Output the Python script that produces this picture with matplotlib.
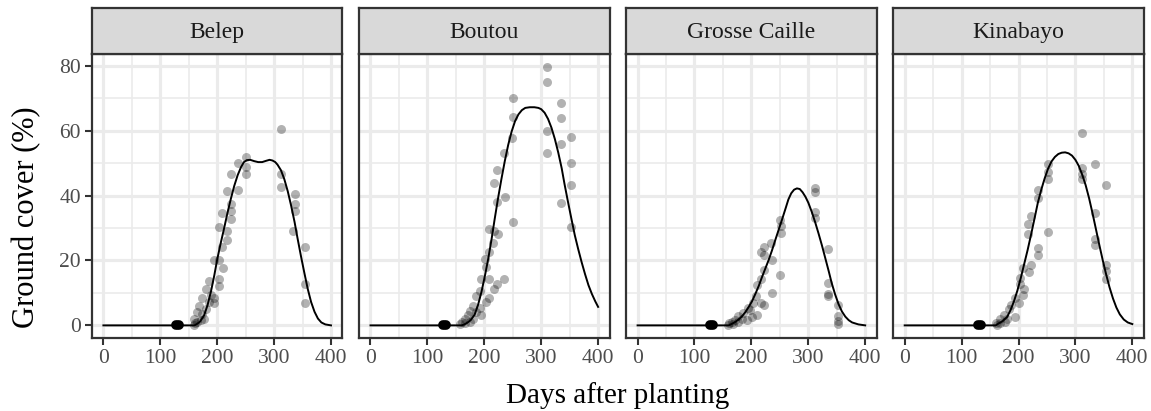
import matplotlib
matplotlib.use("Agg")
import matplotlib.pyplot as plt

plt.rcParams['font.family'] = ['Liberation Serif', 'DejaVu Serif']

sites = ["Belep", "Boutou", "Grosse Caille", "Kinabayo"]

# ---- fitted curves (days, ground cover %) ----
belep_curve_x = [0, 160, 165, 170, 177, 183, 189, 195, 200, 206, 212, 218, 224, 230, 236, 242, 247, 252, 258, 265, 272, 279, 286, 292, 297, 302, 306, 312, 318, 324, 330, 336, 341, 347, 353, 359, 365, 371, 377, 383, 390, 400]
belep_curve_y = [0, 0, 0.5, 1.2, 3.1, 6.2, 10.4, 15.5, 20.3, 25.2, 29.8, 34.6, 39.0, 43.0, 46.3, 48.8, 50.3, 50.9, 51.0, 50.6, 50.3, 50.3, 50.7, 51.0, 50.8, 50.3, 49.5, 47.8, 45.0, 41.3, 36.8, 31.8, 27.0, 21.5, 16.3, 11.3, 7.2, 4.2, 2.1, 0.9, 0.3, 0]

boutou_curve_x = [0, 160, 165, 170, 176, 183, 189, 195, 201, 207, 213, 218, 224, 230, 236, 242, 248, 254, 260, 266, 272, 280, 288, 295, 300, 306, 312, 318, 324, 330, 336, 341, 347, 353, 359, 365, 371, 377, 383, 389, 395, 400]
boutou_curve_y = [0, 0, 0.3, 0.8, 1.6, 3.3, 6.3, 10.3, 15.2, 20.6, 26.8, 32.5, 39.0, 45.0, 50.6, 55.6, 59.7, 62.9, 65.0, 66.3, 67.0, 67.2, 67.2, 67.0, 66.6, 65.5, 63.6, 60.9, 57.4, 53.2, 48.4, 43.5, 38.1, 32.9, 27.8, 23.5, 19.5, 15.8, 12.4, 9.7, 7.4, 5.7]

grosse_curve_x = [0, 160, 166, 172, 178, 183, 189, 195, 201, 207, 213, 218, 224, 230, 236, 242, 248, 254, 260, 265, 270, 275, 280, 285, 290, 295, 300, 306, 312, 318, 324, 330, 336, 341, 347, 353, 359, 365, 371, 377, 388, 400]
grosse_curve_y = [0, 0, 0.5, 1.1, 1.9, 2.7, 4.0, 5.6, 7.4, 9.7, 12.2, 14.6, 17.3, 20.0, 23.0, 26.3, 29.5, 32.7, 36.0, 38.8, 40.7, 41.8, 42.2, 42.0, 41.0, 39.6, 37.8, 35.0, 31.8, 28.3, 24.6, 20.6, 16.6, 13.1, 9.6, 6.6, 4.3, 2.7, 1.6, 0.9, 0.3, 0]

kina_curve_x = [0, 160, 165, 172, 180, 186, 192, 198, 204, 210, 216, 222, 228, 234, 240, 246, 252, 258, 264, 270, 276, 282, 288, 294, 300, 306, 312, 318, 324, 330, 336, 342, 348, 354, 360, 366, 372, 378, 385, 392, 400]
kina_curve_y = [0, 0, 0.6, 1.3, 2.6, 4.7, 7.4, 10.7, 14.6, 18.9, 23.2, 27.9, 32.8, 37.8, 41.8, 45.3, 48.3, 50.5, 51.9, 52.8, 53.2, 53.3, 53.0, 52.3, 51.0, 49.1, 46.4, 43.2, 39.2, 34.6, 29.7, 24.8, 20.1, 15.7, 11.7, 8.3, 5.5, 3.4, 1.8, 0.9, 0.4]

# ---- emergence markers (days) ----
emerg_start = [128, 128, 128, 129]
emerg_end = [133, 133, 133, 134]

# ---- observations ----
belep_obs_x = [312, 250, 236, 250, 250, 224, 312, 312, 218, 236, 336, 337, 224, 337, 224, 209, 225, 204, 334, 218, 218, 355, 209, 195, 204, 211, 186, 204, 204, 181, 354, 354, 174, 195, 186, 195, 168, 180, 165, 174, 160, 171, 161, 165, 177, 160, 189]
belep_obs_y = [60.5, 52.0, 49.9, 48.9, 46.6, 46.6, 46.6, 42.5, 41.4, 41.8, 40.4, 37.3, 37.3, 35.2, 35.2, 34.5, 32.9, 30.3, 29.0, 29.0, 26.4, 24.2, 24.0, 20.1, 20.1, 17.7, 13.7, 14.2, 12.2, 11.1, 12.7, 7.0, 8.5, 8.5, 7.3, 6.8, 5.9, 5.2, 4.1, 3.6, 2.1, 1.6, 0.6, 1.1, 2.1, 0.0, 9.3]

boutou_obs_x = [311, 311, 251, 335, 251, 335, 311, 353, 249, 334, 311, 235, 223, 353, 217, 353, 236, 222, 335, 251, 353, 208, 217, 224, 215, 208, 203, 201, 194, 209, 234, 222, 217, 192, 186, 208, 203, 180, 192, 174, 186, 195, 171, 166, 180, 160, 174, 157, 166]
boutou_obs_y = [79.6, 75.0, 70.0, 68.6, 64.2, 64.0, 60.0, 57.9, 57.8, 55.8, 53.2, 53.0, 48.0, 50.1, 43.9, 43.2, 39.6, 37.9, 37.7, 31.9, 30.2, 29.6, 29.0, 28.0, 25.5, 22.7, 18.0, 20.3, 14.2, 14.2, 14.4, 12.7, 11.1, 10.7, 9.1, 8.5, 7.1, 5.9, 5.4, 4.3, 4.1, 3.2, 3.1, 2.1, 2.1, 1.1, 1.1, 0.3, 0.6]

grosse_obs_x = [311, 311, 311, 311, 251, 252, 252, 234, 222, 217, 222, 236, 335, 222, 251, 217, 210, 335, 335, 335, 236, 208, 202, 222, 217, 353, 194, 210, 353, 353, 353, 186, 201, 177, 183, 171, 192, 166, 177, 160, 168, 159, 198]
grosse_obs_y = [42.2, 41.2, 35.0, 33.2, 32.4, 30.6, 28.6, 25.5, 24.2, 22.6, 21.6, 20.1, 23.5, 17.0, 15.6, 14.2, 12.3, 13.2, 9.8, 9.1, 10.1, 9.1, 6.8, 6.4, 6.8, 6.2, 5.4, 3.3, 2.9, 1.5, 0.5, 3.9, 2.6, 2.9, 2.1, 1.6, 1.6, 1.1, 0.9, 0.6, 0.3, 0.0, 4.6]

kina_obs_x = [311, 251, 334, 311, 251, 311, 311, 251, 353, 235, 235, 334, 222, 216, 251, 216, 334, 334, 235, 235, 208, 222, 353, 353, 353, 218, 202, 202, 209, 208, 193, 201, 186, 183, 194, 174, 180, 168, 160, 168, 177, 162]
kina_obs_y = [59.2, 49.7, 49.7, 48.4, 47.3, 46.5, 45.0, 45.0, 43.2, 41.7, 39.1, 34.5, 33.8, 31.2, 28.8, 28.3, 26.5, 24.9, 23.7, 21.6, 17.7, 18.5, 18.5, 16.7, 14.4, 16.5, 14.7, 12.9, 11.2, 9.4, 8.3, 6.8, 6.3, 5.2, 2.6, 3.1, 2.1, 1.9, 0.6, 0.6, 0.9, 0.0]

curves_x = [belep_curve_x, boutou_curve_x, grosse_curve_x, kina_curve_x]
curves_y = [belep_curve_y, boutou_curve_y, grosse_curve_y, kina_curve_y]
obs_x = [belep_obs_x, boutou_obs_x, grosse_obs_x, kina_obs_x]
obs_y = [belep_obs_y, boutou_obs_y, grosse_obs_y, kina_obs_y]

x_ticks = [0, 100, 200, 300, 400]
y_ticks = [0, 20, 40, 60, 80]

W, H = 1151, 411
fig = plt.figure(figsize=(W / 100, H / 100), dpi=100)

panel_w = 250.4
panel_step = 267.1
left0 = 92.0
top_px, bottom_px = 54.0, 338.3
strip_top = 8.3

border_col = "#333333"
grid_col = "#EBEBEB"

for i, site in enumerate(sites):
    lx = left0 + i * panel_step
    ax = fig.add_axes([lx / W, (H - bottom_px) / H, panel_w / W, (bottom_px - top_px) / H])
    ax.set_xlim(-20, 420)
    ax.set_ylim(-3.98, 83.6)
    ax.set_xticks(x_ticks)
    ax.set_yticks(y_ticks)
    ax.set_xticks([50, 150, 250, 350], minor=True)
    ax.set_yticks([10, 30, 50, 70], minor=True)
    ax.grid(True, which="major", color=grid_col, lw=2.3)
    ax.grid(True, which="minor", color=grid_col, lw=1.2)
    ax.set_axisbelow(True)
    ax.tick_params(which="minor", length=0)
    ax.tick_params(which="major", length=5, width=1.5, color=border_col,
                   labelsize=15.5, labelcolor="#4D4D4D", pad=3)
    if i > 0:
        ax.tick_params(axis="y", left=False, labelleft=False)
    for s in ax.spines.values():
        s.set_color(border_col)
        s.set_linewidth(1.6)

    ax.scatter(obs_x[i], obs_y[i], s=42, color="black", alpha=0.3, linewidths=0, zorder=3)
    ax.plot(curves_x[i], curves_y[i], color="black", lw=1.4, zorder=4)
    ax.plot([emerg_start[i], emerg_end[i]], [0, 0], color="black", lw=7,
            solid_capstyle="round", zorder=5)

    sax = fig.add_axes([lx / W, (H - top_px) / H, panel_w / W, (top_px - strip_top) / H])
    sax.set_facecolor("#D9D9D9")
    sax.set_xticks([])
    sax.set_yticks([])
    for s in sax.spines.values():
        s.set_color(border_col)
        s.set_linewidth(1.6)
    sax.text(0.5, 0.47, site, ha="center", va="center", fontsize=17, color="#1A1A1A",
             transform=sax.transAxes)

fig.text((left0 + 3 * panel_step + panel_w + left0) / 2 / W, 8 / H, "Days after planting",
         ha="center", va="baseline", fontsize=21, color="black")
fig.text(27 / W, 1 - 217 / H, "Ground cover (%)", ha="center", va="center",
         rotation=90, fontsize=22, color="black")

fig.savefig("out.png", dpi=100)
